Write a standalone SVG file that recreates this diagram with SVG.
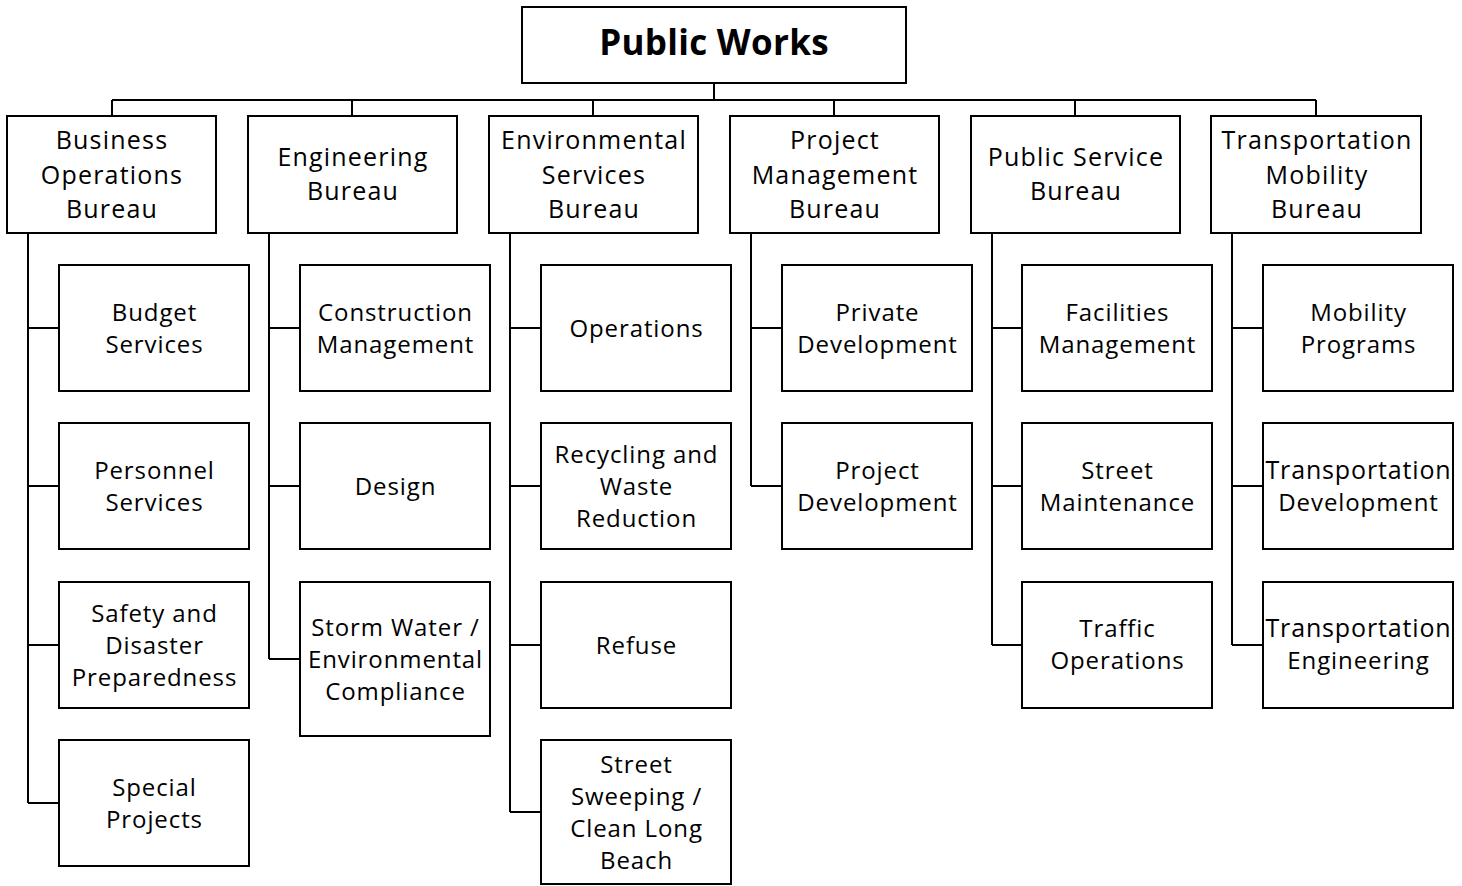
<svg xmlns="http://www.w3.org/2000/svg" width="1462" height="886" viewBox="0 0 1462 886">
  <style>
    .box { fill: #ffffff; stroke: #000000; stroke-width: 2; }
    .wire { fill: none; stroke: #000000; stroke-width: 2; }
    text { font-family: "Open Sans", Lato, "Liberation Sans", sans-serif; fill: #000000; text-anchor: middle; }
    .title { font-size: 35px; font-weight: bold; letter-spacing: 0.3px; }
    .bureau { font-size: 25px; letter-spacing: 1.2px; }
    .unit { font-size: 24px; letter-spacing: 0.9px; }
    .unit-wide { font-size: 25px; letter-spacing: 0.85px; }
  </style>
  <rect width="1462" height="886" fill="#ffffff"/>

  <!-- connectors -->
  <g id="connectors" class="wire">
    <path d="M714 83 V100 M112 100 H1316"/>
    <path d="M112 100 V116 M352 100 V116 M593 100 V116 M834 100 V116 M1075 100 V116 M1316 100 V116"/>
    <!-- Business Operations -->
    <path d="M28 233 V803 M28 328 H59 M28 486 H59 M28 645 H59 M28 803 H59"/>
    <!-- Engineering -->
    <path d="M269 233 V659 M269 328 H300 M269 486 H300 M269 659 H300"/>
    <!-- Environmental Services -->
    <path d="M510 233 V812 M510 328 H541 M510 486 H541 M510 645 H541 M510 812 H541"/>
    <!-- Project Management -->
    <path d="M751 233 V486 M751 328 H782 M751 486 H782"/>
    <!-- Public Service -->
    <path d="M992 233 V645 M992 328 H1022 M992 486 H1022 M992 645 H1022"/>
    <!-- Transportation Mobility -->
    <path d="M1232 233 V645 M1232 328 H1263 M1232 486 H1263 M1232 645 H1263"/>
  </g>

  <g id="public-works">
    <rect class="box" x="522" y="7" width="384" height="76"/>
    <text class="title" x="714" y="55">Public Works</text>
  </g>

  <!-- bureaus -->
  <g id="business-operations-bureau">
    <rect class="box" x="7" y="116" width="209" height="117"/>
    <text class="bureau" x="112" y="149">Business</text>
    <text class="bureau" x="112" y="184">Operations</text>
    <text class="bureau" x="112" y="218">Bureau</text>
  </g>
  <g id="engineering-bureau">
    <rect class="box" x="248" y="116" width="209" height="117"/>
    <text class="bureau" x="353" y="166">Engineering</text>
    <text class="bureau" x="353" y="200">Bureau</text>
  </g>
  <g id="environmental-services-bureau">
    <rect class="box" x="489" y="116" width="209" height="117"/>
    <text class="bureau" x="594" y="149">Environmental</text>
    <text class="bureau" x="594" y="184">Services</text>
    <text class="bureau" x="594" y="218">Bureau</text>
  </g>
  <g id="project-management-bureau">
    <rect class="box" x="730" y="116" width="209" height="117"/>
    <text class="bureau" x="835" y="149">Project</text>
    <text class="bureau" x="835" y="184">Management</text>
    <text class="bureau" x="835" y="218">Bureau</text>
  </g>
  <g id="public-service-bureau">
    <rect class="box" x="971" y="116" width="209" height="117"/>
    <text class="bureau" x="1076" y="166">Public Service</text>
    <text class="bureau" x="1076" y="200">Bureau</text>
  </g>
  <g id="transportation-mobility-bureau">
    <rect class="box" x="1211" y="116" width="210" height="117"/>
    <text class="bureau" x="1317" y="149">Transportation</text>
    <text class="bureau" x="1317" y="184">Mobility</text>
    <text class="bureau" x="1317" y="218">Bureau</text>
  </g>

  <!-- Business Operations units -->
  <g id="budget-services">
    <rect class="box" x="59" y="265" width="190" height="126"/>
    <text class="unit" x="154.5" y="321">Budget</text>
    <text class="unit" x="154.5" y="353">Services</text>
  </g>
  <g id="personnel-services">
    <rect class="box" x="59" y="423" width="190" height="126"/>
    <text class="unit" x="154.5" y="479">Personnel</text>
    <text class="unit" x="154.5" y="511">Services</text>
  </g>
  <g id="safety-disaster-preparedness">
    <rect class="box" x="59" y="582" width="190" height="126"/>
    <text class="unit" x="154.5" y="622">Safety and</text>
    <text class="unit" x="154.5" y="654">Disaster</text>
    <text class="unit" x="154.5" y="686">Preparedness</text>
  </g>
  <g id="special-projects">
    <rect class="box" x="59" y="740" width="190" height="126"/>
    <text class="unit" x="154.5" y="796">Special</text>
    <text class="unit" x="154.5" y="828">Projects</text>
  </g>

  <!-- Engineering units -->
  <g id="construction-management">
    <rect class="box" x="300" y="265" width="190" height="126"/>
    <text class="unit" x="395.5" y="321">Construction</text>
    <text class="unit" x="395.5" y="353">Management</text>
  </g>
  <g id="design">
    <rect class="box" x="300" y="423" width="190" height="126"/>
    <text class="unit" x="395.5" y="495">Design</text>
  </g>
  <g id="storm-water">
    <rect class="box" x="300" y="582" width="190" height="154"/>
    <text class="unit" x="395.5" y="636">Storm Water /</text>
    <text class="unit" x="395.5" y="668">Environmental</text>
    <text class="unit" x="395.5" y="700">Compliance</text>
  </g>

  <!-- Environmental Services units -->
  <g id="operations">
    <rect class="box" x="541" y="265" width="190" height="126"/>
    <text class="unit" x="636.5" y="337">Operations</text>
  </g>
  <g id="recycling-waste-reduction">
    <rect class="box" x="541" y="423" width="190" height="126"/>
    <text class="unit" x="636.5" y="463">Recycling and</text>
    <text class="unit" x="636.5" y="495">Waste</text>
    <text class="unit" x="636.5" y="527">Reduction</text>
  </g>
  <g id="refuse">
    <rect class="box" x="541" y="582" width="190" height="126"/>
    <text class="unit" x="636.5" y="654">Refuse</text>
  </g>
  <g id="street-sweeping">
    <rect class="box" x="541" y="740" width="190" height="144"/>
    <text class="unit" x="636.5" y="773">Street</text>
    <text class="unit" x="636.5" y="805">Sweeping /</text>
    <text class="unit" x="636.5" y="837">Clean Long</text>
    <text class="unit" x="636.5" y="869">Beach</text>
  </g>

  <!-- Project Management units -->
  <g id="private-development">
    <rect class="box" x="782" y="265" width="190" height="126"/>
    <text class="unit" x="877.5" y="321">Private</text>
    <text class="unit" x="877.5" y="353">Development</text>
  </g>
  <g id="project-development">
    <rect class="box" x="782" y="423" width="190" height="126"/>
    <text class="unit" x="877.5" y="479">Project</text>
    <text class="unit" x="877.5" y="511">Development</text>
  </g>

  <!-- Public Service units -->
  <g id="facilities-management">
    <rect class="box" x="1022" y="265" width="190" height="126"/>
    <text class="unit" x="1117.5" y="321">Facilities</text>
    <text class="unit" x="1117.5" y="353">Management</text>
  </g>
  <g id="street-maintenance">
    <rect class="box" x="1022" y="423" width="190" height="126"/>
    <text class="unit" x="1117.5" y="479">Street</text>
    <text class="unit" x="1117.5" y="511">Maintenance</text>
  </g>
  <g id="traffic-operations">
    <rect class="box" x="1022" y="582" width="190" height="126"/>
    <text class="unit" x="1117.5" y="637">Traffic</text>
    <text class="unit" x="1117.5" y="669">Operations</text>
  </g>

  <!-- Transportation Mobility units -->
  <g id="mobility-programs">
    <rect class="box" x="1263" y="265" width="190" height="126"/>
    <text class="unit" x="1358.5" y="321">Mobility</text>
    <text class="unit" x="1358.5" y="353">Programs</text>
  </g>
  <g id="transportation-development">
    <rect class="box" x="1263" y="423" width="190" height="126"/>
    <text class="unit-wide" x="1358.5" y="479">Transportation</text>
    <text class="unit" x="1358.5" y="511">Development</text>
  </g>
  <g id="transportation-engineering">
    <rect class="box" x="1263" y="582" width="190" height="126"/>
    <text class="unit-wide" x="1358.5" y="637">Transportation</text>
    <text class="unit" x="1358.5" y="669">Engineering</text>
  </g>
</svg>
